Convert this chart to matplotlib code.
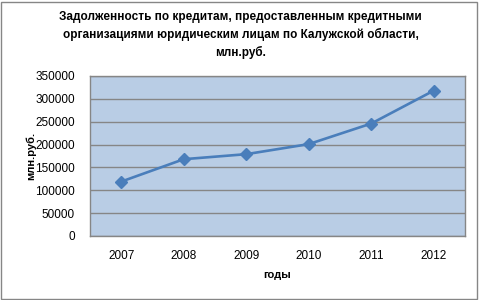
import matplotlib
matplotlib.use("Agg")
import matplotlib.pyplot as plt
from matplotlib.patches import Rectangle

years = ["2007", "2008", "2009", "2010", "2011", "2012"]
values = [119000, 168000, 179000, 201000, 246000, 318000]
yticks = [0, 50000, 100000, 150000, 200000, 250000, 300000, 350000]

title = ("Задолженность по кредитам, предоставленным кредитными\n"
         "организациями юридическим лицам по Калужской области,\n"
         "млн.руб.")

plt.rcParams['font.family'] = ['Liberation Sans', 'DejaVu Sans']

fig = plt.figure(figsize=(4.81, 3.0), dpi=100)
fig.patch.set_facecolor("white")
fig.add_artist(Rectangle((0.002, 0.005), 0.99, 0.99, transform=fig.transFigure,
                         fill=False, edgecolor="#868686", linewidth=1.0))

ax = fig.add_axes([90/481, 1-236/300, 375/481, 160/300])
ax.set_facecolor("#B9CDE5")
x = list(range(len(years)))
ax.plot(x, values, color="#4A7EBB", linewidth=1.9, marker="D", markersize=6,
        markerfacecolor="#4A7EBB", markeredgecolor="#4A7EBB", zorder=3)
ax.set_xlim(-0.5, 5.5)
ax.set_ylim(0, 350000)
ax.set_yticks(yticks)
ax.set_yticklabels([str(v) for v in yticks])
ax.set_xticks(x)
ax.set_xticklabels(years)
ax.grid(axis="y", color="#868686", linewidth=1.0)
ax.set_axisbelow(True)
for s in ax.spines.values():
    s.set_color("#868686")
    s.set_linewidth(1.0)
ax.tick_params(axis="both", length=0, labelsize=8.5, colors="black")
ax.tick_params(axis="y", pad=11)
ax.tick_params(axis="x", pad=10)
ax.set_xlabel("годы", fontsize=8, fontweight="bold")
ax.set_ylabel("млн.руб.", fontsize=8, fontweight="bold")
ax.xaxis.set_label_coords(0.5, -(270 - 236) / 160)
ax.yaxis.set_label_coords((36 - 90) / 375, 0.5)
fig.text(0.5, 1-35/300, title, ha="center", va="center", fontsize=8.5,
         fontweight="bold", linespacing=1.5)

fig.savefig("out.png", dpi=100)
